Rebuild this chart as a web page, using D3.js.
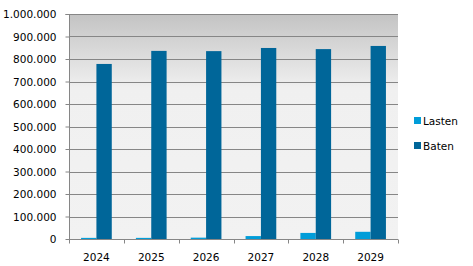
<!DOCTYPE html>
<html>
<head>
<meta charset="utf-8">
<script src="https://cdn.jsdelivr.net/npm/d3@7"></script>
<style>
  body { margin: 0; background: #fff; }
  text { font-family: "DejaVu Sans", Verdana, sans-serif; font-size: 10.5px; fill: #000; }
</style>
</head>
<body>
<div id="chart"></div>
<script>
// Data
var years = ["2024", "2025", "2026", "2027", "2028", "2029"];
var lasten = [5000, 5000, 6000, 13000, 27000, 32000];
var baten = [778000, 836000, 835000, 849000, 844000, 858000];
var seriesNames = ["Lasten", "Baten"];
var seriesColors = ["#009dd9", "#006699"];
var yTicks = [0, 100000, 200000, 300000, 400000, 500000, 600000, 700000, 800000, 900000, 1000000];

var svgWidth = 473;
var svgHeight = 266;

var margin = { top: 14, right: 75, bottom: 27, left: 69 };
var chartWidth = svgWidth - margin.left - margin.right;
var chartHeight = svgHeight - margin.top - margin.bottom;

var svg = d3.select("#chart")
  .append("svg")
  .attr("width", svgWidth)
  .attr("height", svgHeight);

// background gradient of plot area
var defs = svg.append("defs");
var grad = defs.append("linearGradient")
  .attr("id", "bg")
  .attr("x1", 0).attr("y1", 0).attr("x2", 0).attr("y2", 1);
grad.append("stop").attr("offset", "0%").attr("stop-color", "#c3c3c3");
grad.append("stop").attr("offset", "33%").attr("stop-color", "#f0f0f0");
grad.append("stop").attr("offset", "100%").attr("stop-color", "#f2f2f2");

var chartGroup = svg.append("g")
  .attr("transform", `translate(${margin.left}, ${margin.top})`);

chartGroup.append("rect")
  .attr("width", chartWidth)
  .attr("height", chartHeight)
  .attr("fill", "url(#bg)");

// scales
var x0 = d3.scaleBand()
  .domain(years)
  .range([0, chartWidth])
  .paddingInner(0.44)
  .paddingOuter(0.22);

var x1 = d3.scaleBand()
  .domain(seriesNames)
  .range([0, x0.bandwidth()]);

var yScale = d3.scaleLinear()
  .domain([0, 1000000])
  .range([chartHeight, 0]);

var fmt = d3.formatLocale({ decimal: ",", thousands: ".", grouping: [3], currency: ["€", ""] }).format(",d");

// gridlines
chartGroup.append("g")
  .selectAll("line")
  .data(yTicks.slice(1))
  .enter()
  .append("line")
  .attr("x1", 0)
  .attr("x2", chartWidth)
  .attr("y1", d => Math.round(yScale(d)) + 0.5)
  .attr("y2", d => Math.round(yScale(d)) + 0.5)
  .attr("stroke", "#868686")
  .attr("stroke-width", 1);

// bars
var data = years.map((y, i) => ({ year: y, values: [lasten[i], baten[i]] }));

var groups = chartGroup.selectAll("g.cat")
  .data(data)
  .enter()
  .append("g")
  .attr("class", "cat")
  .attr("transform", d => `translate(${x0(d.year)}, 0)`);

groups.selectAll("rect")
  .data(d => d.values.map((v, j) => ({ name: seriesNames[j], value: v, color: seriesColors[j] })))
  .enter()
  .append("rect")
  .attr("x", d => x1(d.name))
  .attr("width", x1.bandwidth())
  .attr("y", d => yScale(d.value))
  .attr("height", d => chartHeight - yScale(d.value))
  .attr("fill", d => d.color);

// axes
var leftAxis = d3.axisLeft(yScale)
  .tickValues(yTicks)
  .tickFormat(fmt)
  .tickSize(4)
  .tickPadding(9);

var yAxis = chartGroup.append("g")
  .attr("transform", "translate(0.5, 0)")
  .call(leftAxis);
yAxis.selectAll("line").attr("stroke", "#868686");
yAxis.select(".domain").attr("stroke", "#868686").attr("d", `M-4,0.5H0V${chartHeight}`);
yAxis.selectAll("text").style("font-size", "10.5px").attr("dy", "0.35em");

var bottomAxis = d3.axisBottom(x0)
  .tickSize(0)
  .tickPadding(14);

var xAxis = chartGroup.append("g")
  .attr("transform", `translate(0, ${chartHeight + 0.5})`)
  .call(bottomAxis);
xAxis.select(".domain").attr("stroke", "#868686").attr("d", `M0,0H${chartWidth}`);
xAxis.selectAll("text").style("font-size", "10.5px");

// category boundary ticks
var step = chartWidth / years.length;
xAxis.selectAll("line.sep")
  .data(d3.range(years.length + 1))
  .enter()
  .append("line")
  .attr("class", "sep")
  .attr("x1", d => Math.round(d * step) + 0.5)
  .attr("x2", d => Math.round(d * step) + 0.5)
  .attr("y1", 0)
  .attr("y2", 4)
  .attr("stroke", "#868686");

// legend
var legend = svg.append("g")
  .attr("transform", "translate(414, 117)");

var items = legend.selectAll("g")
  .data(seriesNames)
  .enter()
  .append("g")
  .attr("transform", (d, i) => `translate(0, ${i * 25})`);

items.append("rect")
  .attr("width", 7)
  .attr("height", 7)
  .attr("fill", (d, i) => seriesColors[i]);

items.append("text")
  .attr("x", 9)
  .attr("y", 8)
  .text(d => d);
</script>
</body>
</html>
